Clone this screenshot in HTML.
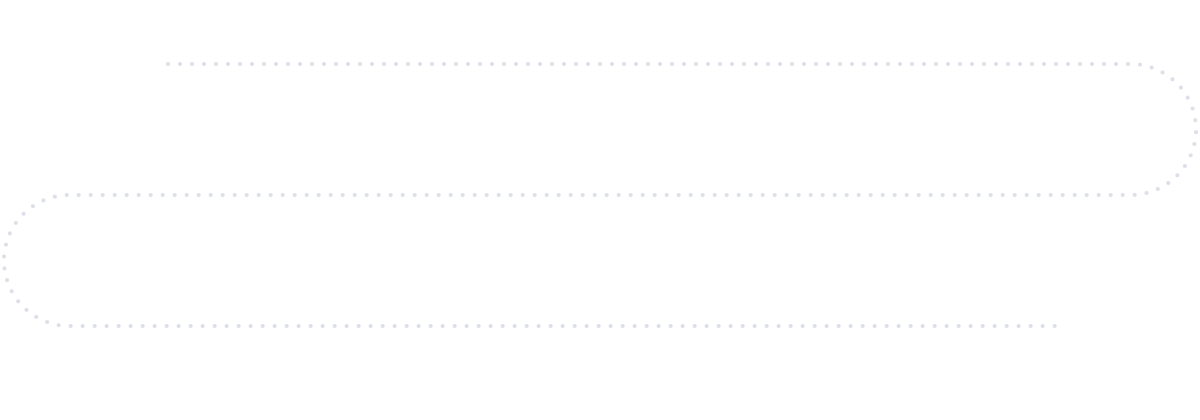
<!DOCTYPE html>
<html><head><style>html,body{margin:0;padding:0;background:#fff;width:1200px;height:420px;overflow:hidden}</style></head>
<body>
<svg width="1200" height="420" viewBox="0 0 1200 420" xmlns="http://www.w3.org/2000/svg">
<path d="M168 64 H1130.5 A65.5 65.5 0 0 1 1130.5 195 H69.5 A65.5 65.5 0 0 0 69.5 326 H1056" fill="none" stroke="#dde0e8" stroke-width="4" stroke-linecap="round" stroke-dasharray="0 12"/>
</svg>
</body></html>
